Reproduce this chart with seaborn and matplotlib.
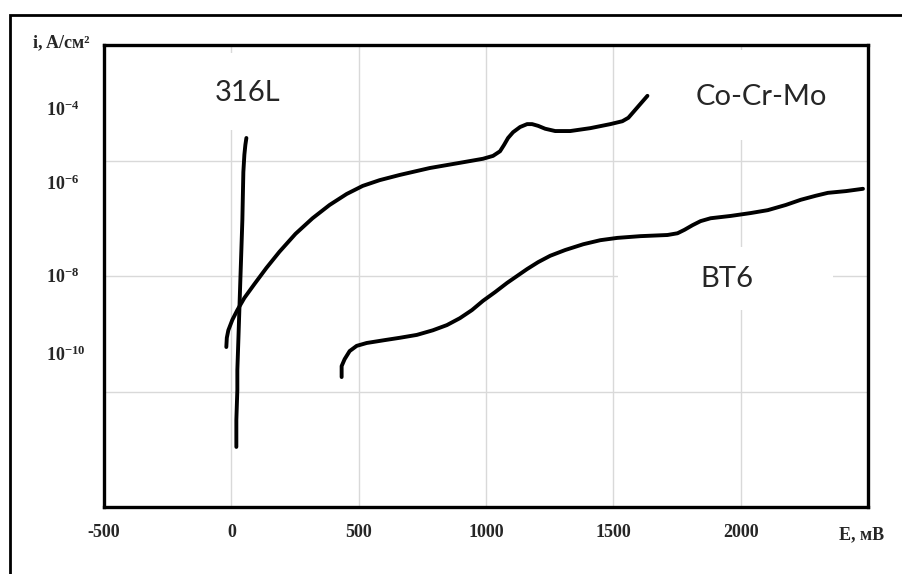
import numpy as np
import pandas as pd
import matplotlib
matplotlib.use("Agg")
import matplotlib.pyplot as plt
from matplotlib.patches import Rectangle
from matplotlib.ticker import LogLocator, MultipleLocator, NullFormatter
import seaborn as sns

# Потенциал E (мВ) и lg плотности тока i (A/см2)
e_316l = [19.7, 19.7, 23.6, 23.6, 27.6, 31.5, 35.4, 39.4, 43.3, 45.3, 47.2, 51.2, 55.1, 59.1]
lg_316l = [-10.96, -10.49, -9.97, -9.63, -9.11, -8.59, -8.07, -7.55, -7.03, -6.60,
           -6.20, -5.90, -5.73, -5.61]

e_cocrmo = [-19.7, -17.7, -11.8, 3.9, 23.6, 51.2, 90.6, 137.8, 189.0, 252.0,
            318.9, 385.8, 452.8, 515.7, 582.7, 661.4, 779.5, 897.6, 988.2, 1027.6,
            1055.1, 1070.9, 1086.6, 1106.3, 1133.9, 1161.4, 1181.1, 1204.7, 1232.3,
            1271.7, 1330.7, 1409.4, 1488.2, 1535.4, 1559.1, 1582.7, 1606.3, 1633.9]
lg_cocrmo = [-9.23, -9.07, -8.94, -8.76, -8.59, -8.38, -8.14, -7.86, -7.58, -7.27,
             -7.00, -6.77, -6.58, -6.44, -6.34, -6.25, -6.13, -6.04, -5.97, -5.92,
             -5.84, -5.73, -5.61, -5.51, -5.42, -5.37, -5.37, -5.40, -5.45,
             -5.49, -5.49, -5.44, -5.37, -5.32, -5.26, -5.14, -5.02, -4.88]

e_bt6 = [433.1, 433.1, 444.9, 464.6, 492.1, 531.5, 602.4, 661.4, 728.3, 791.3,
         846.5, 897.6, 944.9, 988.2, 1035.4, 1082.7, 1122.0, 1161.4, 1204.7, 1252.0,
         1311.0, 1381.9, 1448.8, 1515.7, 1606.3, 1712.6, 1752.0, 1779.5, 1811.0,
         1842.5, 1881.9, 1960.6, 2039.4, 2106.3, 2177.2, 2236.2, 2295.3, 2342.5,
         2413.4, 2480.3]
lg_bt6 = [-9.75, -9.56, -9.44, -9.30, -9.21, -9.16, -9.11, -9.07, -9.02, -8.94,
          -8.85, -8.73, -8.59, -8.43, -8.28, -8.12, -8.00, -7.88, -7.76, -7.65,
          -7.55, -7.45, -7.38, -7.34, -7.31, -7.29, -7.26, -7.20, -7.12,
          -7.05, -7.00, -6.96, -6.91, -6.86, -6.77, -6.68, -6.61, -6.56,
          -6.53, -6.49]

x_ticks = [-500, 0, 500, 1000, 1500, 2000]
y_tick_text = ["$10^{-4}$", "$10^{-6}$", "$10^{-8}$", "$10^{-10}$"]
y_tick_pos = [10 ** -5.13, 10 ** -6.42, 10 ** -8.02, 10 ** -9.37]

df = pd.concat([
    pd.DataFrame({"E": e_316l, "i": 10.0 ** np.array(lg_316l), "alloy": "316L"}),
    pd.DataFrame({"E": e_cocrmo, "i": 10.0 ** np.array(lg_cocrmo), "alloy": "Co-Cr-Mo"}),
    pd.DataFrame({"E": e_bt6, "i": 10.0 ** np.array(lg_bt6), "alloy": "BT6"}),
], ignore_index=True)

sns.set_style("white")
plt.rcParams["font.family"] = ["Liberation Serif", "DejaVu Serif"]
plt.rcParams["mathtext.fontset"] = "custom"
plt.rcParams["mathtext.rm"] = "Liberation Serif:bold"
plt.rcParams["mathtext.it"] = "Liberation Serif:bold"
plt.rcParams["mathtext.bf"] = "Liberation Serif:bold"
plt.rcParams["axes.unicode_minus"] = False

W, H = 902, 574
fig = plt.figure(figsize=(W / 100, H / 100), dpi=100)
ax = fig.add_axes([104 / W, 67 / H, 764 / W, 462 / H])
ax.set_yscale("log")

sns.lineplot(data=df, x="E", y="i", hue="alloy", palette=["black"] * 3,
             sort=False, estimator=None, legend=False, linewidth=2.8, ax=ax)
for ln in ax.get_lines():
    ln.set_solid_capstyle("round")
    ln.set_solid_joinstyle("round")

ax.set_xlim(-500, 2500)
ax.set_ylim(1e-12, 1e-4)
ax.set_xlabel("")
ax.set_ylabel("")

# оси и сетка
ax.set_xticks(x_ticks)
ax.xaxis.set_minor_locator(MultipleLocator(100))
ax.set_xticklabels([str(t) for t in x_ticks], fontsize=13, fontweight="bold")
ax.yaxis.set_major_locator(LogLocator(base=100, numticks=20))
ax.yaxis.set_minor_locator(LogLocator(base=10, subs=np.arange(1, 10), numticks=100))
ax.yaxis.set_major_formatter(NullFormatter())
ax.yaxis.set_minor_formatter(NullFormatter())
ax.tick_params(axis="both", which="both", direction="in", length=4, width=1.2, color="black")
ax.tick_params(axis="x", which="major", pad=12)
ax.grid(True, which="major", color="#d9d9d9", linewidth=1)
ax.set_axisbelow(True)
for sp in ax.spines.values():
    sp.set_linewidth(2.4)
    sp.set_color("black")

# подписи по оси i
for txt, pos in zip(y_tick_text, y_tick_pos):
    ax.text(-58 / 764, pos, txt, transform=ax.get_yaxis_transform(),
            ha="left", va="center", fontsize=13)

ax.text(-43 / 764, 464 / 462, "i, A/см²", transform=ax.transAxes,
        ha="center", va="center", fontsize=13, fontweight="bold")
ax.text(758 / 764, -28 / 462, "E, мВ", transform=ax.transAxes,
        ha="center", va="center", fontsize=13, fontweight="bold")

# надписи сплавов на белых плашках (px: x0, y0, x1, y1 относительно рисунка)
labels = [
    ("316L", (248, 93), (195, 53, 300, 130)),
    ("Co-Cr-Mo", (761, 97), (680, 50, 850, 140)),
    ("BT6", (727, 279), (618, 247, 833, 310)),
]
for name, (cx, cy), (x0, y0, x1, y1) in labels:
    ax.add_patch(Rectangle(((x0 - 104) / 764, (507 - y1) / 462),
                           (x1 - x0) / 764, (y1 - y0) / 462,
                           transform=ax.transAxes, facecolor="white",
                           edgecolor="none", zorder=1))
    ax.text((cx - 104) / 764, (507 - cy) / 462, name, transform=ax.transAxes,
            ha="center", va="center", fontsize=21, family="Lato", zorder=3)

# рамка рисунка
fig.add_artist(Rectangle((10 / W, -0.02), 1.02, (H - 15) / H + 0.02,
                         transform=fig.transFigure, facecolor="none",
                         edgecolor="black", linewidth=2))

fig.savefig("out.png", dpi=100)
